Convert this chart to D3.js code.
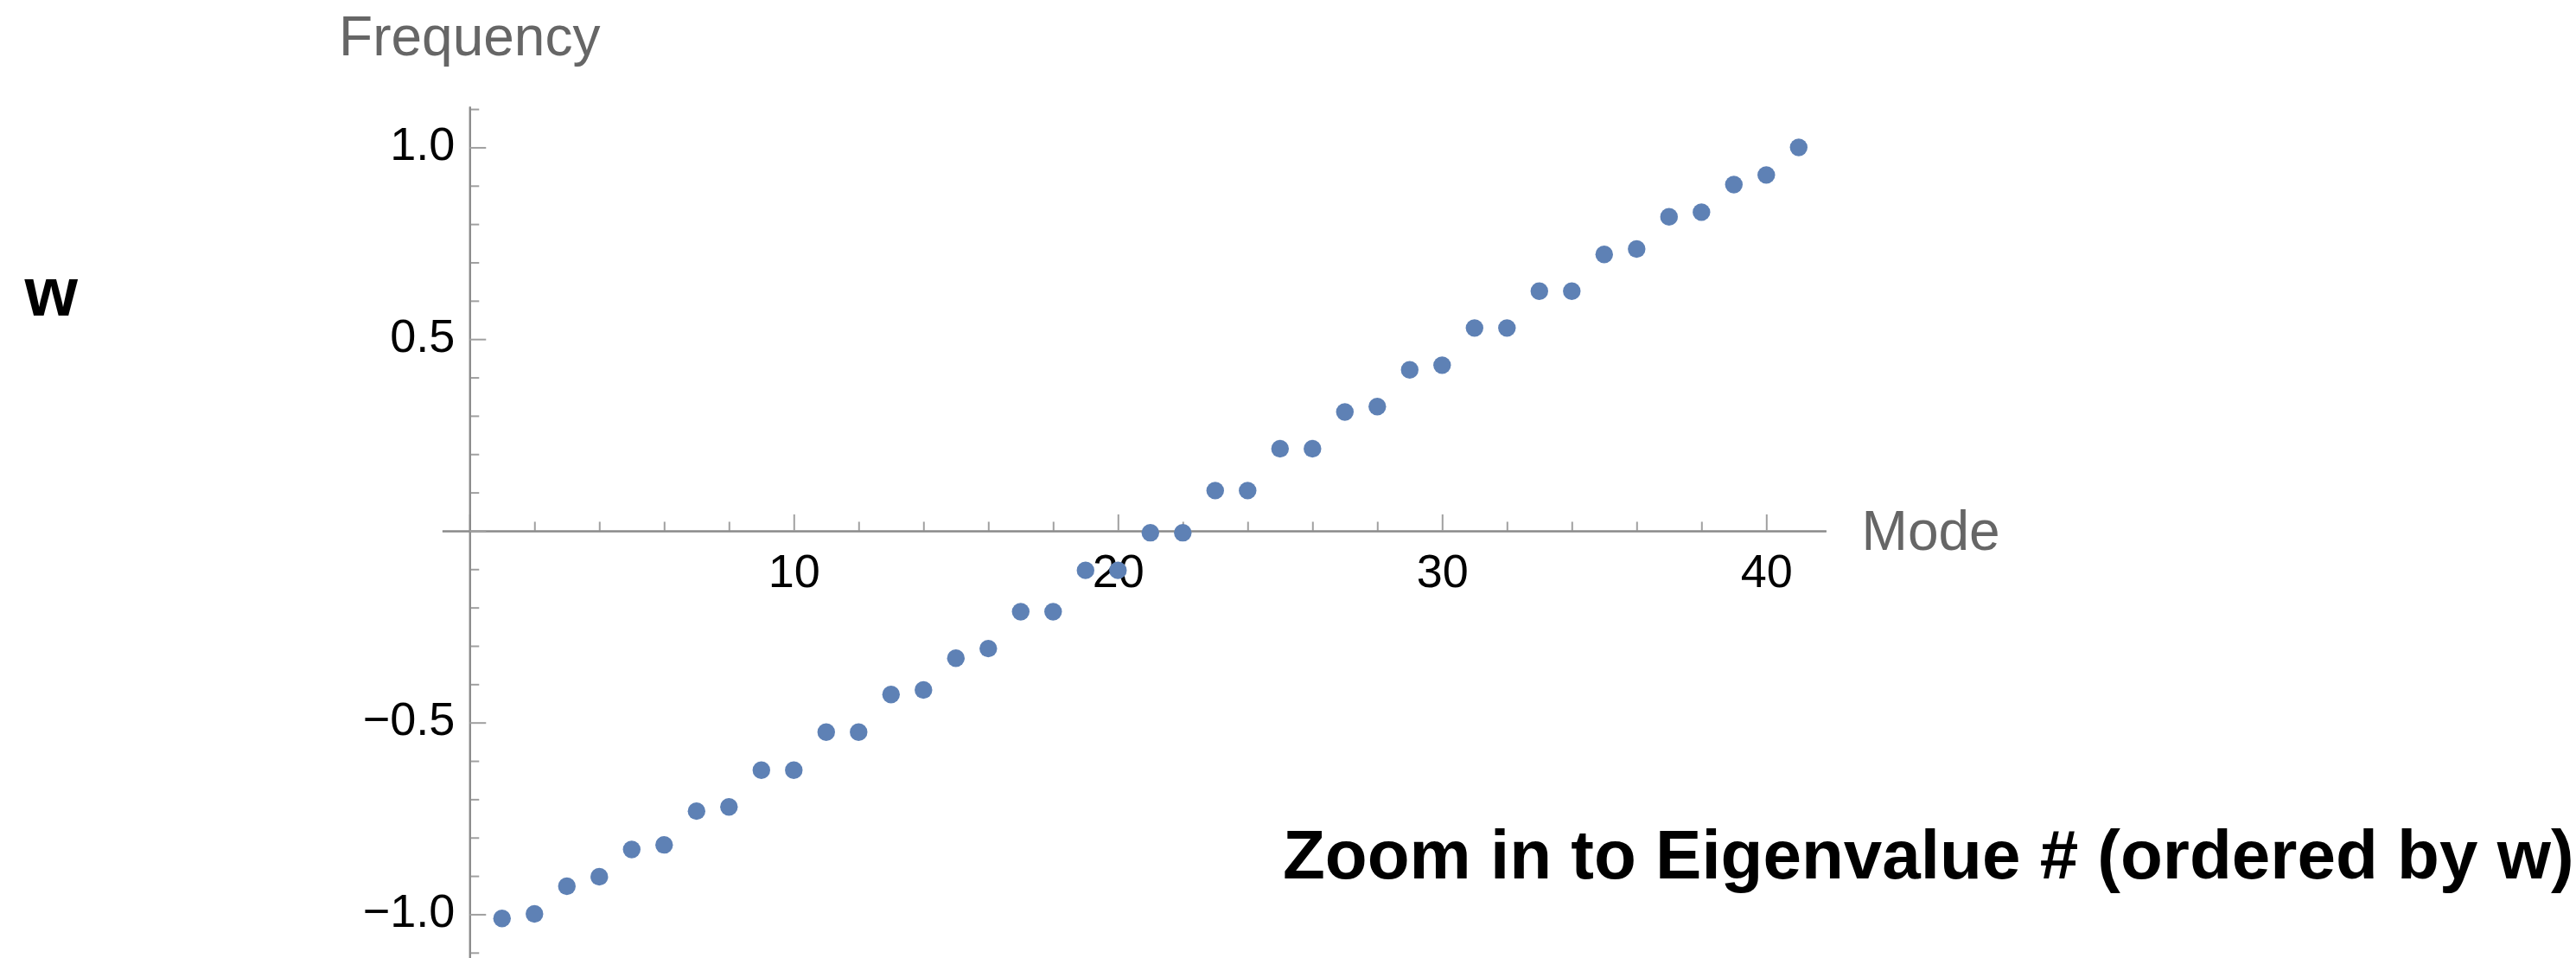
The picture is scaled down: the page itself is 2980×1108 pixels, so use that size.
<!DOCTYPE html>
<html>
<head>
<meta charset="utf-8">
<script src="https://cdn.jsdelivr.net/npm/d3@7"></script>
<style>
  html, body { margin: 0; padding: 0; background: #fff; }
  svg { display: block; }
  text { font-family: "Liberation Sans", Arial, Helvetica, sans-serif; }
</style>
</head>
<body>
<svg id="chart" width="2980" height="1108"></svg>
<script>
// ---- data ----
const modes = d3.range(1, 42); // 1..41
const wValues = [
  -1.011, -0.999, -0.927, -0.902, -0.831, -0.819, -0.731, -0.720, -0.624, -0.624,
  -0.525, -0.525, -0.427, -0.415, -0.332, -0.307, -0.211, -0.211, -0.103, -0.103,
  -0.005, -0.005, 0.105, 0.105, 0.214, 0.214, 0.310, 0.324, 0.420, 0.432,
  0.529, 0.529, 0.625, 0.625, 0.721, 0.735, 0.819, 0.831, 0.903, 0.928,
  1.000
];
const xMajorTicks = [0, 10, 20, 30, 40];
const xMinorTicks = [2, 4, 6, 8, 12, 14, 16, 18, 22, 24, 26, 28, 32, 34, 36, 38];
const xTickLabels = ["", "10", "20", "30", "40"];
const yMajorTicks = [-1.0, -0.5, 0, 0.5, 1.0];
const yMinorTicks = [-1.1, -0.9, -0.8, -0.7, -0.6, -0.4, -0.3, -0.2, -0.1, 0.1, 0.2, 0.3, 0.4, 0.6, 0.7, 0.8, 0.9, 1.1];
const yTickLabels = ["−1.0", "−0.5", "", "0.5", "1.0"];
const xAxisLabel = "Mode";
const yAxisLabel = "Frequency";
const sideLabel = "w";
const caption = "Zoom in to Eigenvalue # (ordered by w)";

const points = modes.map((m, i) => ({ mode: m, w: wValues[i] }));

// ---- layout ----
const svg = d3.select("#chart");
const x = d3.scaleLinear().domain([-0.85, 41.84]).range([511.4, 2112.3]);
const y = d3.scaleLinear().domain([-1.114, 1.107]).range([1108, 123]);
const x0 = x(0), y0 = y(0);

const axisColor = "#8a8a8a";
const tickColor = "#a0a0a0";

// x axis (minor ticks)
const gxMinor = svg.append("g").attr("transform", `translate(0,${y0})`)
  .call(d3.axisBottom(x).tickValues(xMinorTicks).tickSize(-10.5).tickSizeOuter(0).tickFormat(""));
// x axis (major ticks + labels)
const gx = svg.append("g").attr("transform", `translate(0,${y0})`)
  .call(d3.axisBottom(x).tickValues(xMajorTicks).tickSize(-19).tickSizeOuter(0).tickPadding(27)
    .tickFormat((d, i) => xTickLabels[i]));

// y axis (minor)
const gyMinor = svg.append("g").attr("transform", `translate(${x0},0)`)
  .call(d3.axisLeft(y).tickValues(yMinorTicks).tickSize(-11).tickSizeOuter(0).tickFormat(""));
// y axis (major + labels)
const gy = svg.append("g").attr("transform", `translate(${x0},0)`)
  .call(d3.axisLeft(y).tickValues(yMajorTicks).tickSize(-19).tickSizeOuter(0).tickPadding(17)
    .tickFormat((d, i) => yTickLabels[i]));

[gxMinor, gx, gyMinor, gy].forEach(g => {
  g.selectAll(".domain").attr("stroke", axisColor).attr("stroke-width", 2);
  g.selectAll(".tick line").attr("stroke", tickColor).attr("stroke-width", 2);
  g.selectAll(".tick text").attr("fill", "#000").attr("font-size", 54)
    .attr("font-family", '"Liberation Sans", Arial, sans-serif');
});
gy.selectAll(".tick text").attr("dy", "0.26em");

// points
svg.append("g").selectAll("circle").data(points).join("circle")
  .attr("cx", d => x(d.mode))
  .attr("cy", d => y(d.w))
  .attr("r", 10.2)
  .attr("fill", "#5E81B5");

// axis labels
svg.append("text").attr("x", x0).attr("y", 63.5).attr("text-anchor", "middle")
  .attr("font-size", 64).attr("fill", "#666666").text(yAxisLabel);
svg.append("text").attr("x", 2153.6).attr("y", 635.7)
  .attr("font-size", 64).attr("fill", "#666666").text(xAxisLabel);

// side label and caption
svg.append("text").attr("x", 28.5).attr("y", 365)
  .attr("font-size", 79).attr("font-weight", "bold").attr("fill", "#000").text(sideLabel);
svg.append("text").attr("x", 1484).attr("y", 1015.7)
  .attr("font-size", 80).attr("font-weight", "bold").attr("fill", "#000").text(caption);
</script>
</body>
</html>
